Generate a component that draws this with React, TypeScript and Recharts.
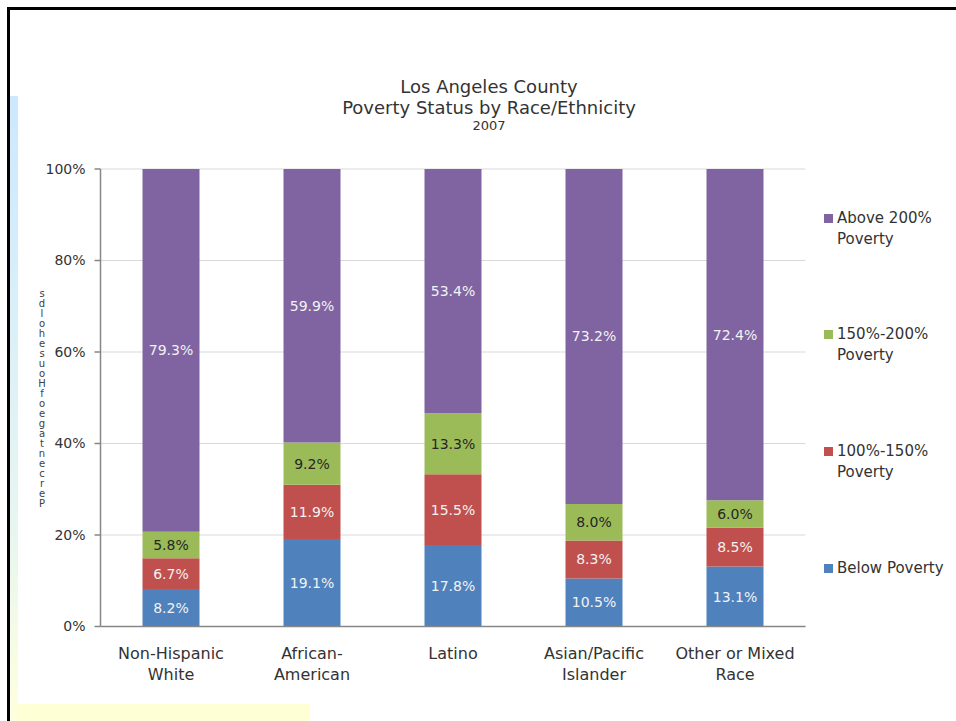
import { BarChart, Bar, XAxis, YAxis, CartesianGrid, LabelList } from 'recharts'

// ── Data ──────────────────────────────────────────────────────
const categories = ['Non-Hispanic White', 'African-American', 'Latino', 'Asian/Pacific Islander', 'Other or Mixed Race']
const categoryLines = [['Non-Hispanic', 'White'], ['African-', 'American'], ['Latino'], ['Asian/Pacific', 'Islander'], ['Other or Mixed', 'Race']]

const belowPoverty = [8.2, 19.1, 17.8, 10.5, 13.1]
const pov100to150 = [6.7, 11.9, 15.5, 8.3, 8.5]
const pov150to200 = [5.8, 9.2, 13.3, 8.0, 6.0]
const above200 = [79.3, 59.9, 53.4, 73.2, 72.4]

const yTicks = [0, 20, 40, 60, 80, 100]
const edgeTicks = [0, 1, 2, 3, 4, 5]

const series = [
  { key: 'below', name: 'Below Poverty', color: '#4F81BD', text: '#F2F2F2' },
  { key: 'p100', name: '100%-150% Poverty', color: '#C0504D', text: '#F2F2F2' },
  { key: 'p150', name: '150%-200% Poverty', color: '#9BBB59', text: '#262626' },
  { key: 'above', name: 'Above 200% Poverty', color: '#8064A2', text: '#F2F2F2' },
]
const legendLines = [['Below Poverty'], ['100%-150%', 'Poverty'], ['150%-200%', 'Poverty'], ['Above 200%', 'Poverty']]

const yTitle = 'Percentage of Households'

const data = categories.map((c, i) => ({
  name: c,
  below: belowPoverty[i],
  p100: pov100to150[i],
  p150: pov150to200[i],
  above: above200[i],
}))

const FONT = "'DejaVu Sans', sans-serif"
const AXIS = '#868686'
const TEXT = '#333333'

// ── Category tick (two lines) ─────────────────────────────────
function CategoryTick({ x, y, payload }: { x?: number; y?: number; payload?: { index: number } }) {
  const lines = categoryLines[payload?.index ?? 0] || []
  return (
    <text x={x} y={y} textAnchor="middle" fill={TEXT} fontSize={16} fontFamily={FONT}>
      {lines.map((l, i) => (
        <tspan key={i} x={x} dy={i === 0 ? 26.5 : 21}>{l}</tspan>
      ))}
    </text>
  )
}

// ── Main component ────────────────────────────────────────────
export default function App() {
  return (
    <div style={{
      position: 'fixed', left: 7, top: 7, width: 949, height: 714,
      background: '#fff', fontFamily: FONT, color: TEXT, overflow: 'hidden',
    }}>
      {/* slide frame */}
      <div style={{ position: 'absolute', left: 0, top: 0, width: 949, height: 3, background: '#000' }} />
      <div style={{ position: 'absolute', left: 0, top: 0, width: 2.5, height: 714, background: '#000' }} />
      <div style={{
        position: 'absolute', left: 2.5, top: 89, width: 8.2, height: 625,
        background: 'linear-gradient(#CCE8FF, #E8F6F0 70%, #FFFFDD)',
      }} />
      <div style={{ position: 'absolute', left: 10, top: 697, width: 293, height: 17, background: '#FFFFD6' }} />

      {/* title */}
      <div style={{ position: 'absolute', left: 182, width: 600, top: 68.8, fontSize: 18, lineHeight: '21px', textAlign: 'center' }}>
        Los Angeles County
      </div>
      <div style={{ position: 'absolute', left: 182, width: 600, top: 89.8, fontSize: 18, lineHeight: '21px', textAlign: 'center' }}>
        Poverty Status by Race/Ethnicity
      </div>
      <div style={{ position: 'absolute', left: 182, width: 600, top: 111, fontSize: 13, lineHeight: '15px', textAlign: 'center' }}>
        2007
      </div>

      {/* y-axis title, letters stacked bottom to top */}
      <div style={{
        position: 'absolute', left: 29, top: 282, width: 12, height: 220,
        display: 'flex', flexDirection: 'column-reverse', alignItems: 'center',
        fontSize: 10, lineHeight: '10px', color: '#404040',
      }}>
        {yTitle.replace(/ /g, '').split('').map((ch, i) => <span key={i}>{ch}</span>)}
      </div>

      <div style={{ position: 'absolute', left: 0, top: 0 }}>
        <BarChart
          width={949}
          height={714}
          data={data}
          margin={{ top: 162, right: 150.5, left: 33.5, bottom: 28.5 }}
          barSize={57}
        >
          <CartesianGrid vertical={false} stroke="#D9D9D9" strokeWidth={1.2} xAxisId="b_cat" />
          <XAxis
            xAxisId="b_cat"
            dataKey="name"
            height={60}
            axisLine={false}
            tickLine={false}
            tickSize={0}
            tickMargin={0}
            interval={0}
            tick={<CategoryTick />}
          />
          <XAxis
            xAxisId="a_edge"
            type="number"
            domain={[0, 5]}
            ticks={edgeTicks}
            allowDataOverflow
            tick={false}
            tickSize={6}
            height={6}
            axisLine={{ stroke: AXIS, strokeWidth: 1.5 }}
            tickLine={{ stroke: AXIS, strokeWidth: 1.5 }}
          />
          <YAxis
            domain={[0, 100]}
            ticks={yTicks}
            allowDataOverflow
            width={60}
            tickSize={6}
            tickMargin={9}
            tickFormatter={v => `${v}%`}
            tick={{ fill: TEXT, fontSize: 14, fontFamily: FONT }}
            axisLine={{ stroke: AXIS, strokeWidth: 1.5 }}
            tickLine={{ stroke: AXIS, strokeWidth: 1.5 }}
          />
          {series.map(s => (
            <Bar key={s.key} dataKey={s.key} name={s.name} stackId="a" xAxisId="b_cat" fill={s.color} isAnimationActive={false}>
              <LabelList
                dataKey={s.key}
                position="center"
                formatter={(v: number) => `${Number(v).toFixed(1)}%`}
                fill={s.text}
                fontSize={14}
                fontFamily={FONT}
              />
            </Bar>
          ))}
        </BarChart>
      </div>

      {/* legend */}
      <div style={{ position: 'absolute', left: 817, top: 200.5, width: 132 }}>
        {[...series].reverse().map((s, i) => {
          const lines = legendLines[series.length - 1 - i]
          return (
            <div key={s.key} style={{ height: 116.7, display: 'flex', alignItems: 'flex-start' }}>
              <div style={{ width: 9, height: 9, marginTop: 6, background: s.color, flexShrink: 0 }} />
              <div style={{ marginLeft: 4, fontSize: 15, lineHeight: '21px', whiteSpace: 'nowrap' }}>
                {lines.map((l, j) => <div key={j}>{l}</div>)}
              </div>
            </div>
          )
        })}
      </div>
    </div>
  )
}
